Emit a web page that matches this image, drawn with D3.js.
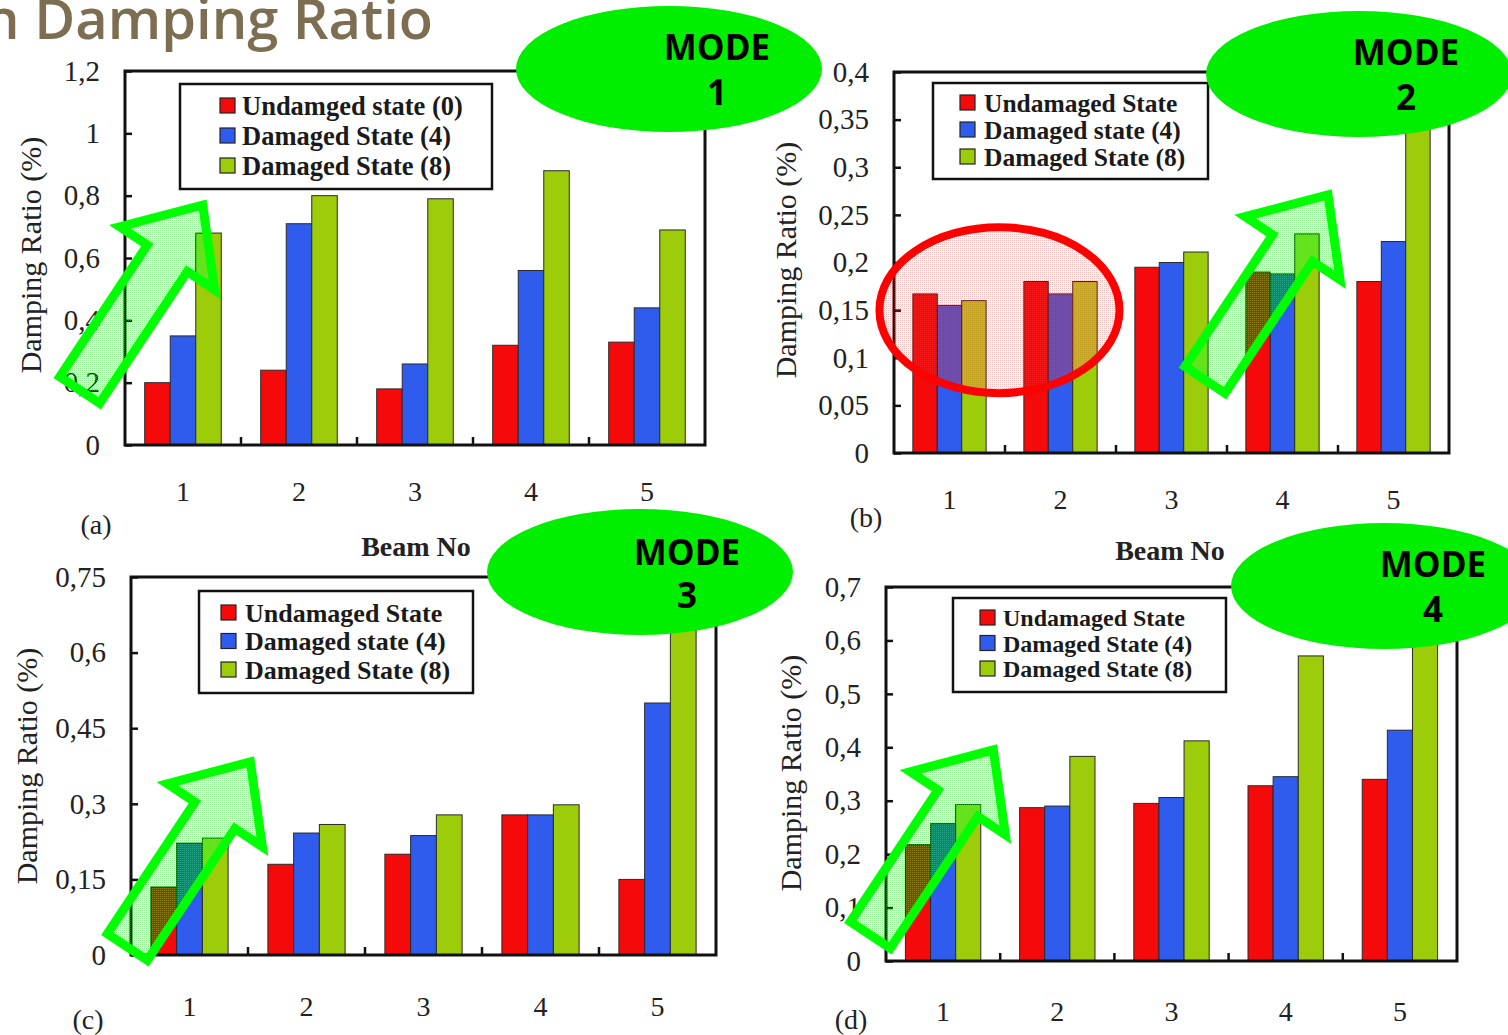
<!DOCTYPE html>
<html><head><meta charset="utf-8">
<script src="https://cdn.jsdelivr.net/npm/d3@7"></script>
<style>body{margin:0;background:#fff}svg{display:block}</style>
</head><body>
<svg id="chart" width="1508" height="1035"></svg>
<script>
// ---------- data ----------
const beams = ["1", "2", "3", "4", "5"];

const mode1Undamaged = [0.20, 0.24, 0.18, 0.32, 0.33];
const mode1Damaged4  = [0.35, 0.71, 0.26, 0.56, 0.44];
const mode1Damaged8  = [0.68, 0.80, 0.79, 0.88, 0.69];

const mode2Undamaged = [0.167, 0.180, 0.195, 0.190, 0.180];
const mode2Damaged4  = [0.155, 0.167, 0.200, 0.188, 0.222];
const mode2Damaged8  = [0.160, 0.180, 0.211, 0.230, 0.360];

const mode3Undamaged = [0.135, 0.180, 0.200, 0.278, 0.150];
const mode3Damaged4  = [0.222, 0.242, 0.237, 0.278, 0.500];
const mode3Damaged8  = [0.232, 0.259, 0.278, 0.298, 0.680];

const mode4Undamaged = [0.218, 0.287, 0.295, 0.328, 0.340];
const mode4Damaged4  = [0.257, 0.290, 0.306, 0.345, 0.432];
const mode4Damaged8  = [0.293, 0.383, 0.412, 0.571, 0.640];

const mode1Ticks = [0, 0.2, 0.4, 0.6, 0.8, 1, 1.2];
const mode2Ticks = [0, 0.05, 0.1, 0.15, 0.2, 0.25, 0.3, 0.35, 0.4];
const mode3Ticks = [0, 0.15, 0.3, 0.45, 0.6, 0.75];
const mode4Ticks = [0, 0.1, 0.2, 0.3, 0.4, 0.5, 0.6, 0.7];

const mode1Legend = ["Undamged state (0)", "Damaged State (4)", "Damaged State (8)"];
const mode2Legend = ["Undamaged State", "Damaged state (4)", "Damaged State (8)"];
const mode3Legend = ["Undamaged State", "Damaged state (4)", "Damaged State (8)"];
const mode4Legend = ["Undamaged State", "Damaged State (4)", "Damaged State (8)"];

const modeLabels = ["1", "2", "3", "4"];
const panelLetters = ["(a)", "(b)", "(c)", "(d)"];
const yTitle = "Damping Ratio (%)";
const xTitle = "Beam No";
const pageTitle = "n Damping Ratio";

// ---------- styles / layout ----------
const seriesColors = ["#f40a0a", "#2f5ced", "#9ccc0a"];
const serif = "'Liberation Serif','Times New Roman',serif";
const fmt = d => String(d).replace(".", ",");

const panels = [
  { series: [mode1Undamaged, mode1Damaged4, mode1Damaged8], ticks: mode1Ticks, legend: mode1Legend,
    yMax: 1.2, left: 125, right: 705, top: 71, bottom: 445, xPad: 37,
    legendBox: { x: 180, y: 84, w: 312, h: 105, row0: 22, rowStep: 30, sw: 40, tx: 62, fs: 26.5 },
    letterPos: [96, 524], xTitlePos: [416, 546], yTitlePos: [31, 255],
    modeEllipse: { cx: 669, cy: 69, rx: 153, ry: 63, tx: 717, ty1: 60, ty2: 105 },
    arrow: { g: 0.67, v: 0.77 } },
  { series: [mode2Undamaged, mode2Damaged4, mode2Damaged8], ticks: mode2Ticks, legend: mode2Legend,
    yMax: 0.4, left: 894, right: 1449, top: 72, bottom: 453, xPad: 37,
    legendBox: { x: 933, y: 83, w: 275, h: 96, row0: 20, rowStep: 27, sw: 27, tx: 51, fs: 25.5 },
    letterPos: [866, 517], xTitlePos: [1170, 550], yTitlePos: [786, 260],
    modeEllipse: { cx: 1359, cy: 74, rx: 153, ry: 63, tx: 1406, ty1: 65, ty2: 110 },
    arrow: { g: 3.91, v: 0.271 },
    redEllipse: { g: 0.95, v: 0.150, rx: 120, ry: 83 } },
  { series: [mode3Undamaged, mode3Damaged4, mode3Damaged8], ticks: mode3Ticks, legend: mode3Legend,
    yMax: 0.75, left: 131, right: 716, top: 577, bottom: 955, xPad: 42,
    legendBox: { x: 199, y: 591, w: 274, h: 102, row0: 22, rowStep: 28.5, sw: 22, tx: 46, fs: 26 },
    letterPos: [88, 1019], xTitlePos: null, yTitlePos: [27, 766],
    modeEllipse: { cx: 640, cy: 572, rx: 153, ry: 63, tx: 687, ty1: 565, ty2: 608 },
    arrow: { g: 1.02, v: 0.383 } },
  { series: [mode4Undamaged, mode4Damaged4, mode4Damaged8], ticks: mode4Ticks, legend: mode4Legend,
    yMax: 0.7, left: 886, right: 1457, top: 587, bottom: 961, xPad: 41,
    legendBox: { x: 953, y: 598, w: 273, h: 94, row0: 20, rowStep: 25.5, sw: 27, tx: 50, fs: 24 },
    letterPos: [851, 1019], xTitlePos: null, yTitlePos: [791, 773],
    modeEllipse: { cx: 1384, cy: 586, rx: 153, ry: 63, tx: 1433, ty1: 577, ty2: 622 },
    arrow: { g: 0.94, v: 0.395 } }
];

const svg = d3.select("#chart");
const defs = svg.append("defs");
function dotPattern(id, color, size) {
  const p = defs.append("pattern").attr("id", id).attr("width", size).attr("height", size)
    .attr("patternUnits", "userSpaceOnUse");
  p.append("rect").attr("width", 1).attr("height", 1).attr("fill", color);
}
dotPattern("greenDots", "#22ee22", 2);
dotPattern("redDots", "#ff4444", 2);

const annot = [];

panels.forEach((p, pi) => {
  const g = svg.append("g");
  const x = d3.scaleBand().domain(beams).range([p.left, p.right]).paddingInner(0.34).paddingOuter(0.17);
  const xs = d3.scaleBand().domain([0, 1, 2]).range([0, x.bandwidth()]);
  const y = d3.scaleLinear().domain([0, p.yMax]).range([p.bottom, p.top]);
  const xLin = d3.scaleLinear().domain([0, beams.length]).range([p.left, p.right]);

  // bars
  p.series.forEach((vals, si) => {
    g.append("g").selectAll("rect").data(vals).join("rect")
      .attr("x", (d, i) => x(beams[i]) + xs(si))
      .attr("y", d => y(d))
      .attr("width", xs.bandwidth())
      .attr("height", d => y(0) - y(d))
      .attr("fill", seriesColors[si])
      .attr("stroke", "#2a2a2a").attr("stroke-width", 1);
  });

  // y axis
  g.append("g").attr("transform", `translate(${p.left},0)`)
    .call(d3.axisLeft(y).tickValues(p.ticks).tickSizeInner(-7).tickSizeOuter(0).tickPadding(25).tickFormat(fmt))
    .call(s => s.select(".domain").remove())
    .call(s => s.selectAll("line").attr("stroke", "#111").attr("stroke-width", 2.5))
    .call(s => s.selectAll("text").attr("font-family", serif).attr("font-size", 29).attr("fill", "#222"));

  // x axis labels
  g.append("g").attr("transform", `translate(0,${p.bottom})`)
    .call(d3.axisBottom(x).tickSize(0).tickPadding(p.xPad - 1))
    .call(s => s.select(".domain").remove())
    .call(s => s.selectAll("text").attr("font-family", serif).attr("font-size", 28).attr("fill", "#222"));

  // x boundary ticks
  g.append("g").selectAll("line").data(d3.range(1, beams.length)).join("line")
    .attr("x1", i => xLin(i)).attr("x2", i => xLin(i))
    .attr("y1", p.bottom).attr("y2", p.bottom - 8)
    .attr("stroke", "#111").attr("stroke-width", 2.5);

  // frame
  g.append("rect").attr("x", p.left).attr("y", p.top)
    .attr("width", p.right - p.left).attr("height", p.bottom - p.top)
    .attr("fill", "none").attr("stroke", "#111").attr("stroke-width", 3);

  // legend
  const lb = p.legendBox;
  const lg = g.append("g");
  lg.append("rect").attr("x", lb.x).attr("y", lb.y).attr("width", lb.w).attr("height", lb.h)
    .attr("fill", "#fff").attr("stroke", "#111").attr("stroke-width", 2.5);
  const rows = lg.selectAll("g.row").data(p.legend).join("g").attr("class", "row")
    .attr("transform", (d, i) => `translate(${lb.x},${lb.y + lb.row0 + i * lb.rowStep})`);
  rows.append("rect").attr("x", lb.sw).attr("y", -8).attr("width", 15).attr("height", 15)
    .attr("fill", (d, i) => seriesColors[i]).attr("stroke", "#222").attr("stroke-width", 1.2);
  rows.append("text").attr("x", lb.tx).attr("dy", "0.34em").text(d => d)
    .attr("font-family", serif).attr("font-size", lb.fs).attr("font-weight", "bold").attr("fill", "#1a1a1a");

  // titles
  g.append("text").attr("x", p.letterPos[0]).attr("y", p.letterPos[1]).attr("dy", "0.34em")
    .attr("text-anchor", "middle").attr("font-family", serif).attr("font-size", 28).attr("fill", "#222")
    .text(panelLetters[pi]);
  if (p.xTitlePos) {
    g.append("text").attr("x", p.xTitlePos[0]).attr("y", p.xTitlePos[1]).attr("dy", "0.34em")
      .attr("text-anchor", "middle").attr("font-family", serif).attr("font-size", 28).attr("font-weight", "bold")
      .attr("fill", "#222").text(xTitle);
  }
  g.append("text").attr("transform", `translate(${p.yTitlePos[0]},${p.yTitlePos[1]}) rotate(-90)`)
    .attr("dy", "0.34em").attr("text-anchor", "middle").attr("font-family", serif)
    .attr("font-size", 30).attr("fill", "#222").text(yTitle);

  annot.push({ p, xLin, y });
});

// ---------- annotations ----------
const ag = svg.append("g");
function arrowPoints(B, T, sw, hw, hl) {
  const dx = T[0] - B[0], dy = T[1] - B[1], L = Math.hypot(dx, dy);
  const u = [dx / L, dy / L], n = [-u[1], u[0]];
  const H = [T[0] - u[0] * hl, T[1] - u[1] * hl];
  const P = (pt, k) => [pt[0] + n[0] * k, pt[1] + n[1] * k];
  return [P(B, sw), P(H, sw), P(H, hw), T, P(H, -hw), P(H, -sw), P(B, -sw)];
}
annot.forEach(({ p, xLin, y }) => {
  const T = [xLin(p.arrow.g), y(p.arrow.v)];
  const B = [T[0] - 123, T[1] + 185];
  ag.append("polygon")
    .attr("points", arrowPoints(B, T, 24, 57, 64).map(d => d.join(",")).join(" "))
    .attr("fill", "url(#greenDots)").attr("fill-opacity", 0.5)
    .attr("stroke", "#00ff00").attr("stroke-width", 9).attr("stroke-linejoin", "miter");
  if (p.redEllipse) {
    ag.append("ellipse").attr("cx", xLin(p.redEllipse.g)).attr("cy", y(p.redEllipse.v))
      .attr("rx", p.redEllipse.rx).attr("ry", p.redEllipse.ry)
      .attr("fill", "url(#redDots)").attr("fill-opacity", 0.35)
      .attr("stroke", "#ff0000").attr("stroke-width", 8);
  }
});
panels.forEach((p, pi) => {
  const e = p.modeEllipse;
  ag.append("ellipse").attr("cx", e.cx).attr("cy", e.cy).attr("rx", e.rx).attr("ry", e.ry).attr("fill", "#00ee00");
  ag.append("text").attr("x", e.tx).attr("y", e.ty1).attr("text-anchor", "middle")
    .attr("font-family", "'Open Sans',sans-serif").attr("font-weight", "bold").attr("font-size", 35)
    .attr("fill", "#000").text("MODE");
  ag.append("text").attr("x", e.tx).attr("y", e.ty2).attr("text-anchor", "middle")
    .attr("font-family", "'Open Sans',sans-serif").attr("font-weight", "bold").attr("font-size", 35)
    .attr("fill", "#000").text(modeLabels[pi]);
});

svg.append("text").attr("x", 433).attr("y", 39).attr("text-anchor", "end")
  .attr("font-family", "'Open Sans',sans-serif").attr("font-weight", 600).attr("font-size", 56)
  .attr("fill", "#7d6e52").text(pageTitle);
</script>
</body></html>
